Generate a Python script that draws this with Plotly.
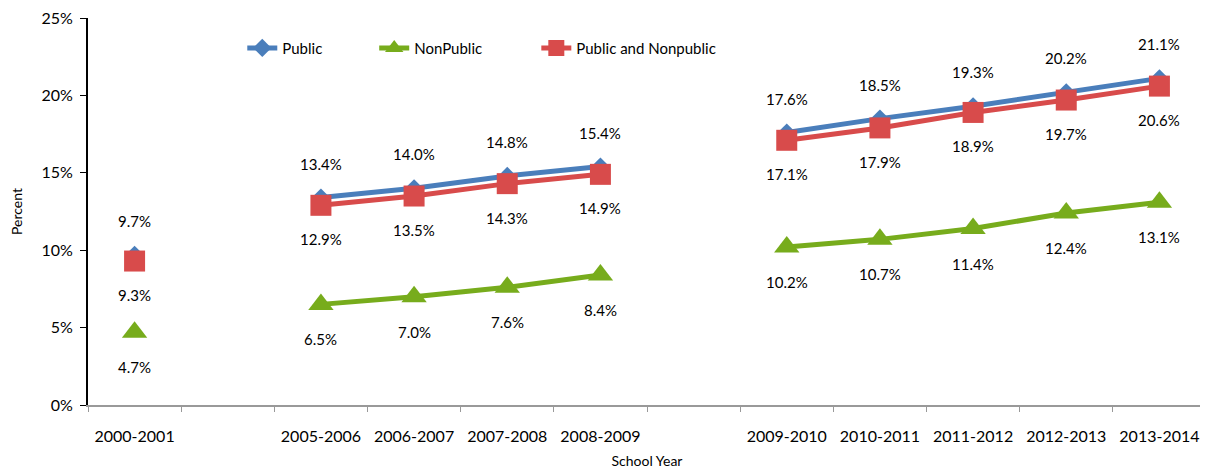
import plotly.graph_objects as go

# school years, with two empty slots where the gaps are
years = ["2000-2001", " ", "2005-2006", "2006-2007", "2007-2008", "2008-2009", "  ",
         "2009-2010", "2010-2011", "2011-2012", "2012-2013", "2013-2014"]

public = [9.7, None, 13.4, 14.0, 14.8, 15.4, None, 17.6, 18.5, 19.3, 20.2, 21.1]
nonpublic = [4.7, None, 6.5, 7.0, 7.6, 8.4, None, 10.2, 10.7, 11.4, 12.4, 13.1]
both = [9.3, None, 12.9, 13.5, 14.3, 14.9, None, 17.1, 17.9, 18.9, 19.7, 20.6]

FONT = "Lato"
blue = "#4A7EBB"
green = "#77AC1C"
red = "#D84B4B"

fig = go.Figure()
fig.add_trace(go.Scatter(x=years, y=public, name="Public", mode="lines+markers",
                         line=dict(color=blue, width=5),
                         marker=dict(symbol="diamond", size=14, color=blue),
                         legend="legend", showlegend=True))
fig.add_trace(go.Scatter(x=years, y=nonpublic, name="NonPublic", mode="lines+markers",
                         line=dict(color=green, width=5),
                         marker=dict(symbol="triangle-up", size=22, color=green),
                         legend="legend2", showlegend=True))
fig.add_trace(go.Scatter(x=years, y=both, name="Public and Nonpublic", mode="lines+markers",
                         line=dict(color=red, width=5),
                         marker=dict(symbol="square", size=21, color=red),
                         legend="legend3", showlegend=True))

# data labels: public above, the others below
for series, shift in [(public, 34), (nonpublic, -35), (both, -34)]:
    for yr, v in zip(years, series):
        if v is None:
            continue
        fig.add_annotation(x=yr, y=v, text=f"{v:.1f}%", showarrow=False,
                           yshift=shift, font=dict(family=FONT, size=15, color="#000"))

leg = dict(orientation="h", yanchor="middle", y=0.922, xanchor="left",
           bgcolor="rgba(0,0,0,0)", font=dict(family=FONT, size=15, color="#000"))

# page body has an 8px margin, so the figure is 8px smaller than the window
fig.update_layout(
    width=1200, height=464,
    margin=dict(l=80, r=2, t=10, b=67),
    plot_bgcolor="white", paper_bgcolor="white",
    font=dict(family=FONT, size=15, color="#000"),
    showlegend=True,
    legend=dict(leg, x=0.138),
    legend2=dict(leg, x=0.256),
    legend3=dict(leg, x=0.401),
    xaxis=dict(type="category", categoryarray=years, range=[-0.5, len(years) - 0.5],
               tickson="boundaries",
               ticks="outside", ticklen=5, tickcolor="#999", showline=True,
               linecolor="#999", linewidth=2, showgrid=False, automargin=False,
               tickfont=dict(size=16), tickangle=0, ticklabelstandoff=16,
               title=dict(text="School Year", font=dict(size=14), standoff=12)),
    yaxis=dict(range=[0, 25], dtick=5, ticksuffix="%", ticks="outside", ticklen=6,
               tickcolor="#000", showline=True, linecolor="#000", linewidth=2,
               showgrid=False, zeroline=False, automargin=False,
               tickfont=dict(size=16), ticklabelstandoff=4, ticklabeloverflow="allow",
               title=dict(text="Percent", font=dict(size=14), standoff=16)),
)

fig.write_html("out.html")
